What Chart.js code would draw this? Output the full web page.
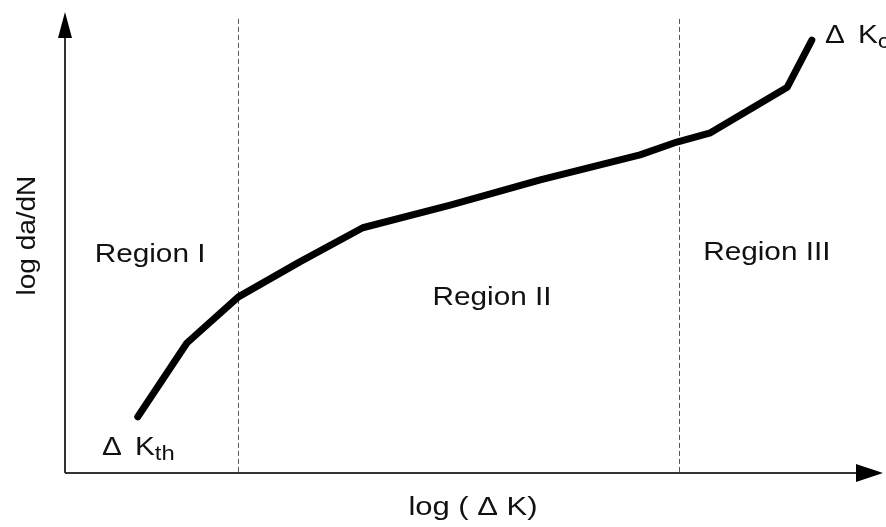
<!DOCTYPE html>
<html>
<head>
<meta charset="utf-8">
<script src="https://cdn.jsdelivr.net/npm/chart.js@4"></script>
<style>
  html, body { margin: 0; padding: 0; background: #fff; }
  #wrap { width: 886px; height: 527px; }
</style>
</head>
<body>
<div id="wrap"><canvas id="chart"></canvas></div>
<script>
// Crack growth curve, log(dK) vs log(da/dN), arbitrary units 0..100
const logDK = [8.9, 14.9, 21.2, 28.7, 36.4, 47.1, 58.1, 70.3, 74.8, 78.9, 88.3, 91.3];
const logDadN = [12.2, 28.2, 38.2, 45.8, 53.2, 58.1, 63.6, 69.0, 71.8, 73.8, 83.7, 93.9];

// region boundaries (dashed lines)
const boundaries = [21.2, 75.1];

// text labels
const regionNames = ['Region I', 'Region II', 'Region III'];
const regionX = [10.4, 52.2, 85.8];
const regionY = [47.3, 38.0, 47.7];

const xTitle = 'log ( \u0394 K)';
const yTitle = 'log da/dN';

const FONT = '"Liberation Sans", Arial, sans-serif';
const STRETCH = 1.19; // scanned text is a bit wider than Arial

// text drawn a little wider than the font, like the scan
function wideText(ctx, text, px, py, sx) {
    ctx.save();
    ctx.translate(px, py);
    ctx.scale(sx || STRETCH, 1);
    ctx.fillText(text, 0, 0);
    ctx.restore();
}

// draws axes with arrows, dashed region lines and all the text
const decorations = {
    id: 'decorations',
    beforeDatasetsDraw(chart) {
        const { ctx, chartArea, scales } = chart;
        const x = scales.x, y = scales.y;
        const x0 = x.getPixelForValue(0);
        const y0 = y.getPixelForValue(0);

        ctx.save();
        // dashed boundaries
        ctx.strokeStyle = '#555';
        ctx.lineWidth = 1;
        ctx.setLineDash([5, 3]);
        boundaries.forEach(b => {
            const px = Math.round(x.getPixelForValue(b)) + 0.5;
            ctx.beginPath();
            ctx.moveTo(px, y.getPixelForValue(98.5));
            ctx.lineTo(px, y0);
            ctx.stroke();
        });
        ctx.setLineDash([]);

        // axes
        ctx.strokeStyle = '#333';
        ctx.lineWidth = 2;
        ctx.beginPath();
        ctx.moveTo(x0, y0);
        ctx.lineTo(x0, chartArea.top + 20);
        ctx.moveTo(x0, y0);
        ctx.lineTo(chartArea.right - 20, y0);
        ctx.stroke();

        // arrow heads
        ctx.fillStyle = '#000';
        ctx.beginPath();
        ctx.moveTo(x0, chartArea.top);
        ctx.lineTo(x0 - 7, chartArea.top + 26);
        ctx.lineTo(x0 + 7, chartArea.top + 26);
        ctx.closePath();
        ctx.fill();
        ctx.beginPath();
        ctx.moveTo(chartArea.right, y0);
        ctx.lineTo(chartArea.right - 27, y0 - 9);
        ctx.lineTo(chartArea.right - 27, y0 + 9);
        ctx.closePath();
        ctx.fill();

        // region labels
        ctx.fillStyle = '#111';
        ctx.font = '25px ' + FONT;
        ctx.textAlign = 'center';
        ctx.textBaseline = 'middle';
        regionNames.forEach((name, i) => {
            wideText(ctx, name, x.getPixelForValue(regionX[i]), y.getPixelForValue(regionY[i]));
        });

        // axis titles
        wideText(ctx, xTitle, 473, y0 + 35, 1.24);
        ctx.save();
        ctx.translate(28, y.getPixelForValue(51.5));
        ctx.rotate(-Math.PI / 2);
        wideText(ctx, yTitle, 0, 0, 1.12);
        ctx.restore();

        // delta K threshold / critical
        const drawDK = (px, py, sub) => {
            ctx.textAlign = 'left';
            ctx.textBaseline = 'alphabetic';
            ctx.font = '25px ' + FONT;
            wideText(ctx, '\u0394', px, py);
            wideText(ctx, 'K', px + 33, py);
            const w = ctx.measureText('K').width * STRETCH;
            ctx.font = '20px ' + FONT;
            wideText(ctx, sub, px + 33 + w, py + 5);
        };
        drawDK(102, 455, 'th');
        drawDK(825, 43, 'c');
        ctx.restore();
    }
};

new Chart(document.getElementById('chart'), {
    type: 'line',
    data: {
        datasets: [{
            data: logDK.map((v, i) => ({ x: v, y: logDadN[i] })),
            borderColor: '#000',
            borderWidth: 7,
            borderCapStyle: 'round',
            borderJoinStyle: 'round',
            tension: 0,
            pointRadius: 0,
            fill: false
        }]
    },
    options: {
        responsive: true,
        maintainAspectRatio: false,
        animation: false,
        layout: { padding: { left: 65, right: 3, top: 12, bottom: 54 } },
        plugins: { legend: { display: false }, tooltip: { enabled: false } },
        scales: {
            x: { type: 'linear', min: 0, max: 100, display: false },
            y: { type: 'linear', min: 0, max: 100, display: false }
        }
    },
    plugins: [decorations]
});
</script>
</body>
</html>
